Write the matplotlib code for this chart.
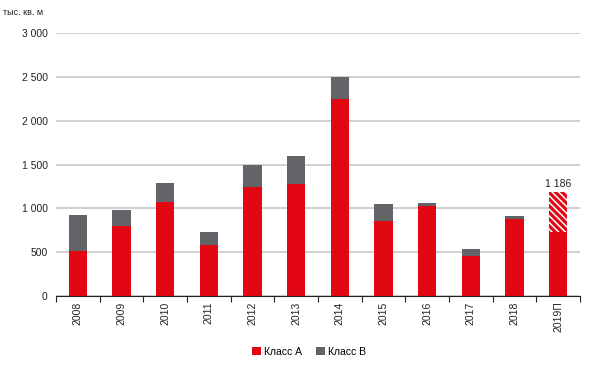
import matplotlib
matplotlib.use("Agg")
import matplotlib.pyplot as plt
import numpy as np
from matplotlib.patches import Patch

plt.rcParams['font.family'] = ['Liberation Sans', 'DejaVu Sans']
plt.rcParams['hatch.color'] = 'white'
plt.rcParams['hatch.linewidth'] = 1.1

years = ['2008', '2009', '2010', '2011', '2012', '2013', '2014', '2015', '2016', '2017', '2018', '2019П']
class_a = [512, 804, 1070, 577, 1242, 1275, 2250, 857, 1023, 458, 875, 733]
total = [921, 982, 1294, 732, 1500, 1600, 2503, 1046, 1060, 531, 914, 1186]
class_b = [t - a for t, a in zip(total, class_a)]
forecast_label = '1 186'

RED = '#E30613'
GREY = '#636467'

fig = plt.figure(figsize=(6, 3.69), dpi=100)
ax = fig.add_axes([0.0933, 0.1978, 0.8734, 0.7128])

x = np.arange(len(years))
w = 0.42
ax.bar(x, class_a, width=w, color=RED, zorder=3)
n = len(years) - 1
ax.bar(x[:n], class_b[:n], bottom=class_a[:n], width=w, color=GREY, zorder=3)
ax.bar(x[n], class_b[n], bottom=class_a[n], width=w, facecolor=RED,
       edgecolor='white', hatch='\\\\\\\\\\', linewidth=0, zorder=3)
ax.text(x[n], total[n] + 40, forecast_label, ha='center', va='bottom', fontsize=7.5, color='#222222')

ax.set_ylim(0, 3000)
ax.set_xlim(-0.5, len(years) - 0.5)
ax.set_yticks(np.arange(0, 3001, 500))
ax.set_yticklabels([f"{v:,}".replace(',', ' ') for v in range(0, 3001, 500)], fontsize=7.5)
ax.yaxis.grid(True, color='#c8c8c8', linewidth=1.2, zorder=0)
ax.tick_params(axis='y', length=0, pad=6, colors='#222222')

ax.set_xticks(np.arange(-0.5, len(years), 1.0))
ax.set_xticklabels([])
ax.set_xticks(x, minor=True)
ax.set_xticklabels(years, minor=True, rotation=90, fontsize=7.5, color='#222222')
ax.tick_params(axis='x', which='major', direction='out', length=4, color='#222222')
ax.tick_params(axis='x', which='minor', length=0, pad=4)

for s in ['top', 'right', 'left']:
    ax.spines[s].set_visible(False)
ax.spines['bottom'].set_color('#222222')
ax.spines['bottom'].set_zorder(4)

fig.text(0.005, 0.965, 'тыс. кв. м', fontsize=6.5, color='#222222', ha='left', va='center')

handles = [Patch(facecolor=RED, label='Класс А'), Patch(facecolor=GREY, label='Класс В')]
fig.legend(handles=handles, loc='center', bbox_to_anchor=(0.515, 0.046), ncol=2, frameon=False,
           fontsize=7.5, handlelength=0.8, handleheight=0.8, handletextpad=0.3, columnspacing=1.4)

fig.savefig('out.png', dpi=100)
